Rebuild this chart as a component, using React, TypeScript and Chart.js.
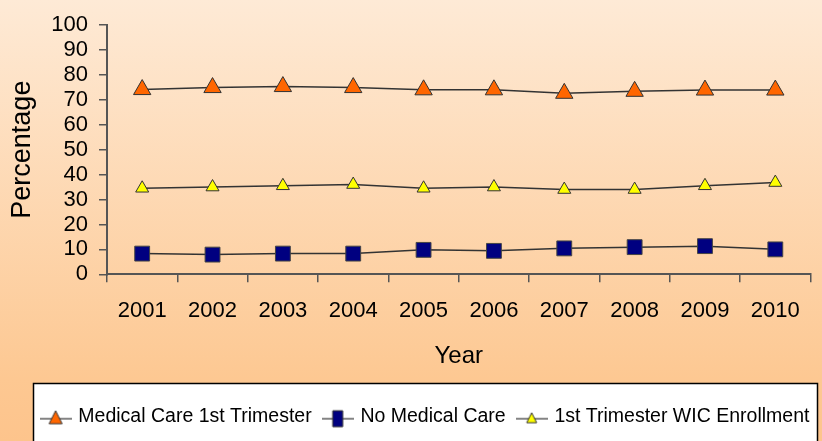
import React, { useEffect, useRef } from "react";
import { Chart, registerables } from "chart.js";

Chart.register(...registerables);

const years = ["2001", "2002", "2003", "2004", "2005", "2006", "2007", "2008", "2009", "2010"];
const medicalCare1st = [74.1, 74.9, 75.3, 74.9, 74.0, 74.0, 72.6, 73.4, 73.9, 73.9];
const noMedicalCare = [8.3, 7.9, 8.3, 8.3, 9.8, 9.4, 10.4, 10.9, 11.3, 10.0];
const wicEnrollment = [34.5, 35.0, 35.5, 36.0, 34.5, 35.0, 34.0, 34.0, 35.5, 36.8];
const seriesLabels = ["Medical Care 1st Trimester", "No Medical Care", "1st Trimester WIC Enrollment"];

const FONT = "'Liberation Sans', Arial, sans-serif";

function makeIcon(kind: string, fill: string): HTMLCanvasElement {
  const c = document.createElement("canvas");
  c.width = 32;
  c.height = 26;
  const x = c.getContext("2d")!;
  x.strokeStyle = "#333";
  x.lineWidth = 1.2;
  x.beginPath();
  x.moveTo(0, 15);
  x.lineTo(32, 15);
  x.stroke();
  x.fillStyle = fill;
  x.lineWidth = 1;
  x.beginPath();
  if (kind === "bigTri") {
    x.moveTo(16, 7);
    x.lineTo(9.5, 20);
    x.lineTo(22.5, 20);
    x.closePath();
  } else if (kind === "smallTri") {
    x.moveTo(16, 9);
    x.lineTo(11, 19);
    x.lineTo(21, 19);
    x.closePath();
  } else {
    x.rect(11, 7, 10, 16);
  }
  x.fill();
  x.stroke();
  return c;
}

const bgPlugin = {
  id: "bgPlugin",
  afterLayout(chart: any) {
    const lg = chart.legend;
    if (lg) {
      lg.left += 19;
      lg.right += 19;
    }
  },
  beforeDraw(chart: any) {
    const { ctx, width, height } = chart;
    ctx.save();
    const g = ctx.createLinearGradient(0, 0, 0, height);
    g.addColorStop(0, "#FEEAD6");
    g.addColorStop(0.86, "#FDC892");
    g.addColorStop(1, "#FDC48C");
    ctx.fillStyle = g;
    ctx.fillRect(0, 0, width, height);
    const lg = chart.legend;
    if (lg) {
      const top = Math.round(lg.top - 11);
      ctx.fillStyle = "#ffffff";
      ctx.fillRect(33, top, 784, height - top + 5);
      ctx.strokeStyle = "#000";
      ctx.lineWidth = 1.5;
      ctx.strokeRect(33.5, top + 0.5, 784, height - top + 10);
    }
    ctx.restore();
  },
};

export default function App() {
  const ref = useRef<HTMLCanvasElement>(null);
  useEffect(() => {
    if (!ref.current) return;
    const icons = [
      makeIcon("bigTri", "#FF6600"),
      makeIcon("square", "#000080"),
      makeIcon("smallTri", "#FFFF00"),
    ];
    const chart = new Chart(ref.current, {
      type: "line",
      data: {
        labels: years,
        datasets: [
          {
            label: seriesLabels[0],
            data: medicalCare1st,
            borderColor: "#333333",
            borderWidth: 1.5,
            pointStyle: "triangle",
            pointRadius: 10,
            pointBackgroundColor: "#FF6600",
            pointBorderColor: "#333333",
            pointBorderWidth: 1,
          },
          {
            label: seriesLabels[1],
            data: noMedicalCare,
            borderColor: "#333333",
            borderWidth: 1.5,
            pointStyle: "rect",
            pointRadius: 10.5,
            pointBackgroundColor: "#000080",
            pointBorderColor: "#444444",
            pointBorderWidth: 1,
          },
          {
            label: seriesLabels[2],
            data: wicEnrollment,
            borderColor: "#333333",
            borderWidth: 1.5,
            pointStyle: "triangle",
            pointRadius: 7.5,
            pointBackgroundColor: "#FFFF00",
            pointBorderColor: "#333333",
            pointBorderWidth: 1,
          },
        ],
      },
      options: {
        responsive: false,
        animation: false,
        layout: { padding: { top: 25, left: 0, right: 8, bottom: 4.5 } },
        plugins: {
          tooltip: { enabled: false },
          legend: {
            position: "bottom",
            labels: {
              usePointStyle: true,
              pointStyleWidth: 26,
              padding: 13,
              color: "#000",
              font: { family: FONT, size: 19.5 },
              generateLabels: (ch: any) =>
                ch.data.datasets.map((ds: any, i: number) => ({
                  text: ds.label,
                  pointStyle: icons[i],
                  fillStyle: "transparent",
                  strokeStyle: "transparent",
                  lineWidth: 0,
                  hidden: false,
                  datasetIndex: i,
                })),
            },
          },
        },
        scales: {
          x: {
            type: "category",
            offset: true,
            grid: {
              offset: true,
              drawOnChartArea: false,
              drawTicks: true,
              tickLength: 8,
              color: "#555555",
              lineWidth: 1.5,
            },
            border: { display: true, color: "#555555", width: 2 },
            ticks: { color: "#000", padding: 15.5, font: { family: FONT, size: 22 } },
            title: {
              display: true,
              text: "Year",
              color: "#000",
              font: { family: FONT, size: 24 },
              padding: { top: 1.9, bottom: 23.6 },
            },
          },
          y: {
            min: 0,
            max: 100,
            ticks: { stepSize: 10, autoSkip: false, color: "#000", padding: 11, font: { family: FONT, size: 22 } },
            grid: {
              drawOnChartArea: false,
              drawTicks: true,
              tickLength: 8,
              color: "#555555",
              lineWidth: 1.5,
            },
            border: { display: true, color: "#555555", width: 2 },
            title: {
              display: true,
              text: "Percentage",
              color: "#000",
              font: { family: FONT, size: 27 },
              padding: { top: 6.8, bottom: 1.1 },
            },
          },
        },
      },
      plugins: [bgPlugin],
    } as any);
    return () => chart.destroy();
  }, []);
  return (
    <div style={{ position: "absolute", left: 0, top: 0, width: 822, height: 441 }}>
      <canvas ref={ref} width={822} height={441} style={{ display: "block" }} />
    </div>
  );
}
